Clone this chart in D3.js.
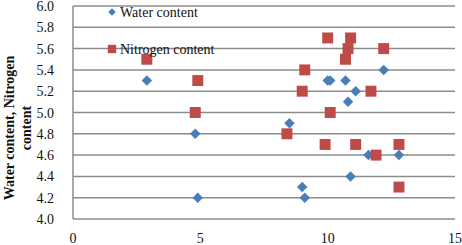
<!DOCTYPE html>
<html lang="en">
<head>
<meta charset="UTF-8">
<title>Water and nitrogen content</title>
<script src="https://cdn.jsdelivr.net/npm/d3@7"></script>
<style>
  body { margin: 0; background: #fff; }
  text { font-family: "Liberation Serif", "DejaVu Serif", serif; }
</style>
</head>
<body>
<svg id="svg" width="462" height="245"></svg>
<script>
const waterX = [2.9, 4.8, 4.9, 8.5, 9.0, 9.1, 10.0, 10.1, 10.7, 10.8, 11.1, 10.9, 11.6, 12.8, 12.2];
const waterY = [5.3, 4.8, 4.2, 4.9, 4.3, 4.2, 5.3, 5.3, 5.3, 5.1, 5.2, 4.4, 4.6, 4.6, 5.4];
const nitroX = [2.9, 4.9, 4.8, 8.4, 9.1, 9.0, 10.0, 10.9, 10.8, 10.7, 12.2, 10.1, 11.7, 9.9, 11.1, 11.9, 12.8, 12.8];
const nitroY = [5.5, 5.3, 5.0, 4.8, 5.4, 5.2, 5.7, 5.7, 5.6, 5.5, 5.6, 5.0, 5.2, 4.7, 4.7, 4.6, 4.7, 4.3];
const xTicks = [0, 5, 10, 15];
const yTicks = [4.0, 4.2, 4.4, 4.6, 4.8, 5.0, 5.2, 5.4, 5.6, 5.8, 6.0];
const seriesNames = ["Water content", "Nitrogen content"];
const yTitle = ["Water content, Nitrogen", "content"];

const svg = d3.select("#svg");
const plotLeft = 73, plotRight = 455, plotTop = 6, plotBottom = 219;

const x = d3.scaleLinear().domain([0, 15]).range([plotLeft, plotRight]);
const y = d3.scaleLinear().domain([4, 6]).range([plotBottom, plotTop]);

// gridlines
svg.append("g")
  .selectAll("line")
  .data(yTicks.slice(1))
  .join("line")
  .attr("x1", plotLeft).attr("x2", plotRight)
  .attr("y1", d => y(d)).attr("y2", d => y(d))
  .attr("stroke", "#8c8c8c")
  .attr("stroke-width", 1.5);

// axes lines
svg.append("line").attr("x1", plotLeft).attr("x2", plotRight).attr("y1", plotBottom).attr("y2", plotBottom)
  .attr("stroke", "#8c8c8c").attr("stroke-width", 1.5);
svg.append("line").attr("x1", plotLeft).attr("x2", plotLeft).attr("y1", plotTop).attr("y2", plotBottom)
  .attr("stroke", "#8c8c8c").attr("stroke-width", 1.5);

// tick labels
svg.append("g").selectAll("text")
  .data(yTicks)
  .join("text")
  .attr("x", 54)
  .attr("y", d => y(d) + 5)
  .attr("text-anchor", "end")
  .attr("font-size", 14)
  .attr("fill", "#111")
  .text(d => d.toFixed(1));

svg.append("g").selectAll("text")
  .data(xTicks)
  .join("text")
  .attr("x", d => x(d))
  .attr("y", 243)
  .attr("text-anchor", "middle")
  .attr("font-size", 14)
  .attr("fill", "#111")
  .text(d => d);

// y title
const yt = svg.append("text")
  .attr("transform", "translate(14,128) rotate(-90)")
  .attr("text-anchor", "middle")
  .attr("font-size", 14)
  .attr("font-weight", "bold")
  .attr("fill", "#111");
yt.append("tspan").attr("x", 0).attr("dy", 0).text(yTitle[0]);
yt.append("tspan").attr("x", 0).attr("dy", 17).text(yTitle[1]);

const diamond = d3.symbol().type(d3.symbolDiamond2).size(70);
const square = d3.symbol().type(d3.symbolSquare).size(120);

// water series
svg.append("g").selectAll("path")
  .data(waterX.map((d, i) => [d, waterY[i]]))
  .join("path")
  .attr("d", diamond)
  .attr("transform", d => `translate(${x(d[0])},${y(d[1])})`)
  .attr("fill", "#4a7ebb");

// nitrogen series
svg.append("g").selectAll("path")
  .data(nitroX.map((d, i) => [d, nitroY[i]]))
  .join("path")
  .attr("d", square)
  .attr("transform", d => `translate(${x(d[0])},${y(d[1])})`)
  .attr("fill", "#be4b48");

// legend
const legend = svg.append("g");
legend.append("path").attr("d", d3.symbol().type(d3.symbolDiamond2).size(36)())
  .attr("transform", "translate(112,12)").attr("fill", "#4a7ebb");
legend.append("path").attr("d", d3.symbol().type(d3.symbolSquare).size(70)())
  .attr("transform", "translate(112,49)").attr("fill", "#be4b48");
legend.selectAll("text")
  .data(seriesNames)
  .join("text")
  .attr("x", 120)
  .attr("y", (d, i) => i === 0 ? 17 : 54)
  .attr("font-size", 14)
  .attr("fill", "#111")
  .text(d => d);
</script>
</body>
</html>
